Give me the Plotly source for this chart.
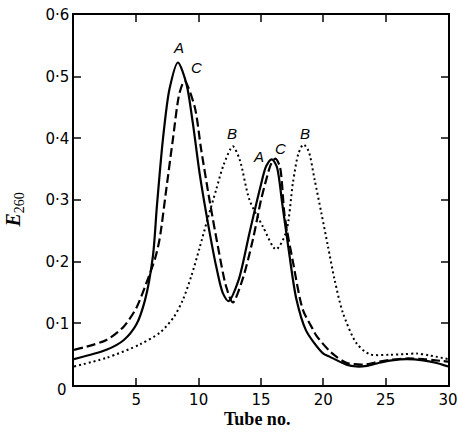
import plotly.graph_objects as go

# Curve A (solid)
a_x = [0, 2.6, 4.0, 5.0, 5.7, 6.33, 6.65, 7.13, 7.66, 8.33, 9.0, 9.53, 10.07, 10.74, 11.41, 11.94, 12.4, 13.2, 14.08, 14.9, 15.42, 15.85, 16.25, 16.7, 17.25, 17.83, 18.6, 19.2, 20.0, 20.5, 21.85, 22.65, 23.5, 24.5, 25.5, 26.7, 28.0, 29.0, 30.0]
a_y = [0.042, 0.057, 0.073, 0.098, 0.138, 0.209, 0.290, 0.398, 0.480, 0.523, 0.490, 0.425, 0.344, 0.263, 0.192, 0.149, 0.136, 0.170, 0.247, 0.317, 0.355, 0.366, 0.355, 0.295, 0.215, 0.140, 0.089, 0.070, 0.051, 0.046, 0.033, 0.030, 0.031, 0.036, 0.040, 0.042, 0.040, 0.036, 0.030]

# Curve C (dashed)
c_x = [0, 2.6, 4.0, 5.0, 5.8, 6.5, 6.86, 7.4, 7.93, 8.47, 8.87, 9.67, 10.2, 10.87, 11.54, 12.2, 12.74, 13.5, 14.35, 15.0, 15.42, 15.8, 16.15, 16.5, 16.9, 17.56, 18.36, 19.17, 19.44, 20.5, 21.04, 21.85, 23.2, 24.5, 25.5, 26.66, 28.0, 29.0, 30.0]
c_y = [0.057, 0.073, 0.095, 0.125, 0.165, 0.205, 0.236, 0.317, 0.398, 0.474, 0.493, 0.452, 0.382, 0.300, 0.225, 0.160, 0.134, 0.170, 0.236, 0.300, 0.333, 0.358, 0.367, 0.355, 0.274, 0.200, 0.122, 0.090, 0.080, 0.055, 0.046, 0.036, 0.033, 0.038, 0.041, 0.043, 0.042, 0.040, 0.038]

# Curve B (dotted)
b_x = [0, 2.6, 5.3, 6.9, 8.0, 8.73, 9.4, 10.07, 10.7, 11.41, 12.0, 12.74, 13.28, 14.08, 15.15, 16.2, 17.0, 17.56, 18.0, 18.4, 18.8, 19.3, 19.84, 20.37, 20.9, 21.57, 22.65, 23.7, 25.3, 26.5, 27.5, 28.5, 30.0]
b_y = [0.030, 0.044, 0.066, 0.085, 0.110, 0.138, 0.176, 0.222, 0.268, 0.317, 0.357, 0.387, 0.366, 0.300, 0.257, 0.220, 0.247, 0.328, 0.375, 0.390, 0.380, 0.333, 0.279, 0.225, 0.171, 0.117, 0.068, 0.050, 0.049, 0.050, 0.051, 0.048, 0.042]

# Peak labels
lab_text = ["A", "C", "B", "A", "C", "B"]
lab_x = [8.4, 9.8, 12.7, 14.8, 16.6, 18.5]
lab_y = [0.548, 0.515, 0.408, 0.370, 0.383, 0.408]

x_ticks = [5, 10, 15, 20, 25, 30]
y_ticks = [0.1, 0.2, 0.3, 0.4, 0.5, 0.6]
y_ticktext = ["0·1", "0·2", "0·3", "0·4", "0·5", "0·6"]

fig = go.Figure()
fig.add_trace(go.Scatter(x=b_x, y=b_y, mode="lines", line=dict(color="black", width=2, dash="2px,3px", shape="spline", smoothing=0.8)))
fig.add_trace(go.Scatter(x=c_x, y=c_y, mode="lines", line=dict(color="black", width=2.2, dash="9px,4px", shape="spline", smoothing=0.8)))
fig.add_trace(go.Scatter(x=a_x, y=a_y, mode="lines", line=dict(color="black", width=2.2, shape="spline", smoothing=0.8)))

for t, xx, yy in zip(lab_text, lab_x, lab_y):
    fig.add_annotation(x=xx, y=yy, text=t, showarrow=False,
                       font=dict(family="Liberation Sans", size=15, color="black", style="italic"))

fig.add_annotation(x=0, y=0, xref="x", yref="paper", text="0", showarrow=False,
                   xshift=-12, yshift=-16, font=dict(family="DejaVu Sans", size=15, color="black"))

fig.add_annotation(x=-0.158, y=0.474, xref="paper", yref="paper", textangle=-90,
                   xanchor="center", yanchor="middle",
                   text="<b><i>E</i></b><sub>260</sub>", showarrow=False,
                   font=dict(family="Liberation Serif", size=20, color="black"))

fig.add_annotation(x=0.49, y=0, xref="paper", yref="paper", xanchor="center", yanchor="bottom",
                   yshift=-46, text="<b>Tube no.</b>", showarrow=False,
                   font=dict(family="Liberation Serif", size=18, color="black"))

fig.update_layout(
    width=458, height=433,
    margin=dict(l=74, r=10, t=15, b=48),
    plot_bgcolor="white", paper_bgcolor="white",
    showlegend=False,
    xaxis=dict(range=[0, 30], tickvals=x_ticks, ticks="inside", ticklen=7, tickwidth=1.5,
               showline=True, linecolor="black", linewidth=1.5, mirror="ticks",
               showgrid=False, zeroline=False, automargin=False,
               tickfont=dict(family="DejaVu Sans", size=15, color="black")),
    yaxis=dict(range=[0, 0.6], tickvals=y_ticks, ticktext=y_ticktext, ticks="inside", ticklen=7, tickwidth=1.5,
               showline=True, linecolor="black", linewidth=1.5, mirror="ticks",
               showgrid=False, zeroline=False, automargin=False,
               tickfont=dict(family="DejaVu Sans", size=15, color="black")),
)

fig.write_html("out.html", config={"displayModeBar": False},
               post_script="document.body.style.margin='0px';document.body.style.overflow='hidden';")
